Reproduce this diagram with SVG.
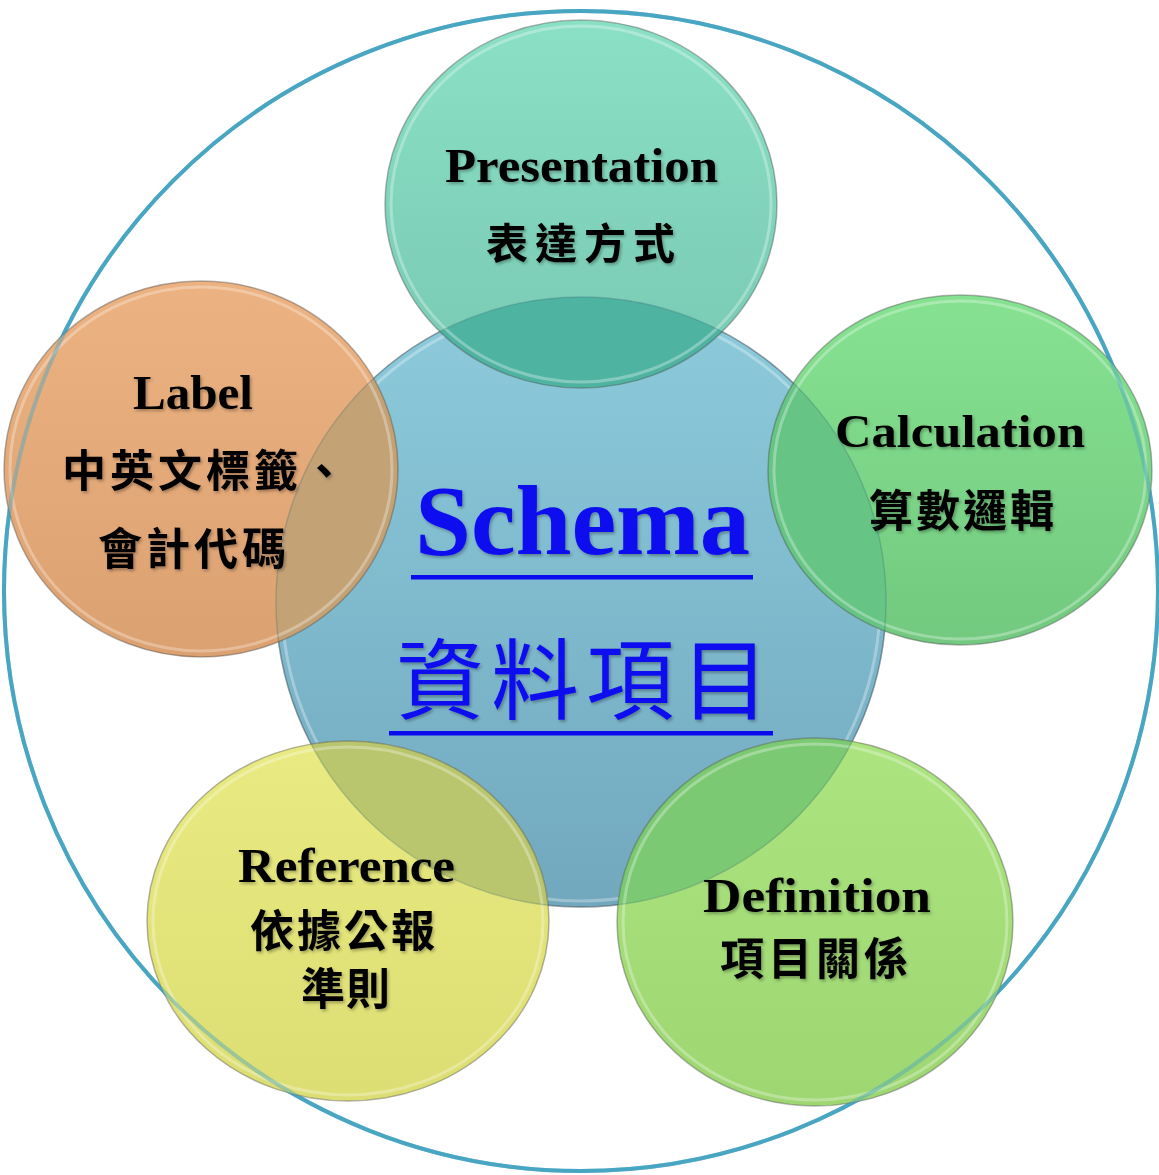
<svg xmlns="http://www.w3.org/2000/svg" width="1159" height="1175" viewBox="0 0 1159 1175">
<style>
.en{font-family:"Liberation Serif","DejaVu Serif",serif;font-weight:bold;fill:#000}
.zh{font-family:"Noto Sans CJK TC","Noto Sans CJK SC",sans-serif;font-weight:bold;fill:#000}
.rim{fill:none;stroke:#4a4a4a;stroke-opacity:.4;stroke-width:1.5}
.hl{fill:none;stroke:#fff;stroke-opacity:.3;stroke-width:3}
.frame{fill:none;stroke:#4aa6c4;stroke-width:4}
.blue{fill:#0b0bf0}
</style>
<defs>
<filter id="sh" x="-10%" y="-20%" width="120%" height="150%">
<feDropShadow dx="1.5" dy="2" stdDeviation="1.5" flood-color="#000" flood-opacity="0.3"/>
</filter>
<linearGradient id="gC" x1="0" y1="0" x2="0" y2="1"><stop offset="0" stop-color="#8ccbdc"/><stop offset="1" stop-color="#72a8be"/></linearGradient>
<linearGradient id="gP" x1="0" y1="0" x2="0" y2="1"><stop offset="0" stop-color="#8ae0c4"/><stop offset="1" stop-color="#78c9b2"/></linearGradient>
<linearGradient id="gL" x1="0" y1="0" x2="0" y2="1"><stop offset="0" stop-color="#ecb281"/><stop offset="1" stop-color="#dca171"/></linearGradient>
<linearGradient id="gK" x1="0" y1="0" x2="0" y2="1"><stop offset="0" stop-color="#86e291"/><stop offset="1" stop-color="#72c97f"/></linearGradient>
<linearGradient id="gR" x1="0" y1="0" x2="0" y2="1"><stop offset="0" stop-color="#e9eb82"/><stop offset="1" stop-color="#dcdd72"/></linearGradient>
<linearGradient id="gD" x1="0" y1="0" x2="0" y2="1"><stop offset="0" stop-color="#ace47f"/><stop offset="1" stop-color="#9ed672"/></linearGradient>
<clipPath id="cP"><ellipse cx="581" cy="204" rx="196" ry="184"/></clipPath>
<clipPath id="cL"><ellipse cx="201" cy="469" rx="197" ry="188"/></clipPath>
<clipPath id="cK"><ellipse cx="960" cy="470" rx="192" ry="175"/></clipPath>
<clipPath id="cR"><ellipse cx="348" cy="921" rx="201" ry="180"/></clipPath>
<clipPath id="cD"><ellipse cx="815" cy="922" rx="198" ry="184"/></clipPath>
</defs>
<rect width="1159" height="1175" fill="#fff"/>
<g id="outer-ring"><ellipse class="frame" cx="581" cy="591" rx="577" ry="580"/></g>

<g id="schema">
<circle cx="581" cy="602" r="305" fill="url(#gC)"/>
<circle class="hl" cx="581" cy="602" r="299"/>
<circle class="rim" cx="581" cy="602" r="305"/>
</g>

<g id="presentation">
<ellipse cx="581" cy="204" rx="196" ry="184" fill="url(#gP)"/>
<circle cx="581" cy="602" r="305" fill="#4fb3a2" clip-path="url(#cP)"/>
<ellipse class="hl" cx="581" cy="204" rx="190" ry="178"/>
<ellipse class="rim" cx="581" cy="204" rx="196" ry="184"/>
<text class="en" x="445" y="182" font-size="48" textLength="273" lengthAdjust="spacingAndGlyphs" filter="url(#sh)">Presentation</text>
<text class="zh" x="486" y="259" font-size="42" letter-spacing="7" filter="url(#sh)">表達方式</text>
</g>

<g id="label">
<ellipse cx="201" cy="469" rx="197" ry="188" fill="url(#gL)"/>
<circle cx="581" cy="602" r="305" fill="#c3a276" clip-path="url(#cL)"/>
<ellipse class="hl" cx="201" cy="469" rx="191" ry="182"/>
<ellipse class="rim" cx="201" cy="469" rx="197" ry="188"/>
<text class="en" x="133" y="409" font-size="48" textLength="120" lengthAdjust="spacingAndGlyphs" filter="url(#sh)">Label</text>
<text class="zh" x="62" y="487" font-size="44" letter-spacing="4" filter="url(#sh)">中英文標籤、</text>
<text class="zh" x="98" y="565" font-size="44" letter-spacing="4" filter="url(#sh)">會計代碼</text>
</g>

<g id="calculation">
<ellipse cx="960" cy="470" rx="192" ry="175" fill="url(#gK)"/>
<circle cx="581" cy="602" r="305" fill="#66c585" clip-path="url(#cK)"/>
<ellipse class="hl" cx="960" cy="470" rx="186" ry="169"/>
<ellipse class="rim" cx="960" cy="470" rx="192" ry="175"/>
<text class="en" x="835" y="447" font-size="46" textLength="250" lengthAdjust="spacingAndGlyphs" filter="url(#sh)">Calculation</text>
<text class="zh" x="869" y="527" font-size="44" letter-spacing="3" filter="url(#sh)">算數邏輯</text>
</g>

<g id="reference">
<ellipse cx="348" cy="921" rx="201" ry="180" fill="url(#gR)"/>
<circle cx="581" cy="602" r="305" fill="#b9c66e" clip-path="url(#cR)"/>
<ellipse class="hl" cx="348" cy="921" rx="195" ry="174"/>
<ellipse class="rim" cx="348" cy="921" rx="201" ry="180"/>
<text class="en" x="238" y="882" font-size="48" textLength="217" lengthAdjust="spacingAndGlyphs" filter="url(#sh)">Reference</text>
<text class="zh" x="250" y="947" font-size="44" letter-spacing="3" filter="url(#sh)">依據公報</text>
<text class="zh" x="301" y="1005" font-size="44" letter-spacing="1" filter="url(#sh)">準則</text>
</g>

<g id="definition">
<ellipse cx="815" cy="922" rx="198" ry="184" fill="url(#gD)"/>
<circle cx="581" cy="602" r="305" fill="#7cc973" clip-path="url(#cD)"/>
<ellipse class="hl" cx="815" cy="922" rx="192" ry="178"/>
<ellipse class="rim" cx="815" cy="922" rx="198" ry="184"/>
<text class="en" x="703" y="912" font-size="48" textLength="228" lengthAdjust="spacingAndGlyphs" filter="url(#sh)">Definition</text>
<text class="zh" x="720" y="975" font-size="44" letter-spacing="4" filter="url(#sh)">項目關係</text>
</g>

<g id="schema-edge"><circle cx="581" cy="602" r="305" fill="none" stroke="#2f6070" stroke-opacity="0.25" stroke-width="1.5"/></g>

<g id="schema-text">
<text class="en blue" x="415" y="554" font-size="100" textLength="335" lengthAdjust="spacingAndGlyphs" filter="url(#sh)">Schema</text>
<rect class="blue" x="411" y="575" width="342" height="4.5"/>
<text class="zh blue" x="396" y="712" font-size="88" font-weight="normal" style="font-weight:normal" letter-spacing="7" filter="url(#sh)">資料項目</text>
<rect class="blue" x="389" y="731" width="384" height="4.5"/>
</g>

<g id="outer-ring-over"><ellipse class="frame" cx="581" cy="591" rx="577" ry="580" stroke-opacity="0.45"/></g>
</svg>
